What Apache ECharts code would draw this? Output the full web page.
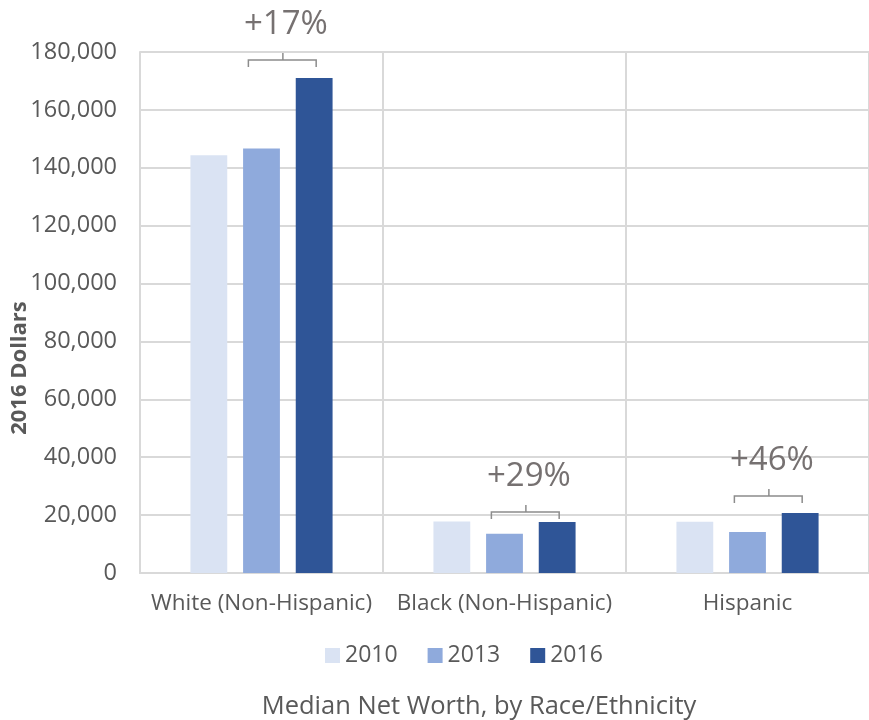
<!DOCTYPE html>
<html>
<head>
<meta charset="utf-8">
<script src="https://cdn.jsdelivr.net/npm/echarts@6/dist/echarts.min.js"></script>
<style>
  html, body { margin: 0; padding: 0; background: #fff; }
  #chart { width: 869px; height: 720px; }
</style>
</head>
<body>
<div id="chart"></div>
<script>
// Median net worth by race/ethnicity, 2016 dollars
const groups = ['White (Non-Hispanic)', 'Black (Non-Hispanic)', 'Hispanic'];
const years = ['2010', '2013', '2016'];
const worth2010 = [144300, 17800, 17700];
const worth2013 = [146700, 13600, 14200];
const worth2016 = [171000, 17600, 20700];
const yTicks = [0, 20000, 40000, 60000, 80000, 100000, 120000, 140000, 160000, 180000];

const colors = ['#dae3f3', '#8faadc', '#2f5597'];
const FONT = '"Open Sans", sans-serif';
const TEXT = '#595959';
const GRID = '#d9d9d9';

// Change from 2013 to 2016, shown over each group's bracket
const changeLabels = worth2016.map((v, i) =>
  '+' + Math.round((v / worth2013[i] - 1) * 100) + '%');
const bracketData = groups.map((g, i) => [i, Math.max(worth2013[i], worth2016[i]), changeLabels[i]]);
// pixel clearance between the taller bar and the bracket legs
const bracketLift = [11, 3, 10];

const chart = echarts.init(document.getElementById('chart'), null, { renderer: 'canvas' });

chart.setOption({
  animation: false,
  textStyle: { fontFamily: FONT },
  color: colors,
  grid: { left: 140, top: 52, width: 735, height: 521, containLabel: false },
  graphic: [{
    type: 'text',
    x: 20,
    y: 368,
    rotation: Math.PI / 2,
    style: {
      text: '2016 Dollars',
      textAlign: 'center',
      textVerticalAlign: 'middle',
      fill: TEXT,
      fontSize: 22,
      fontWeight: 'bold',
      fontFamily: FONT
    }
  }],
  legend: {
    data: years,
    bottom: 48,
    left: 320,
    itemWidth: 15,
    itemHeight: 15,
    itemGap: 30,
    icon: 'rect',
    textStyle: { color: TEXT, fontSize: 23, fontFamily: FONT }
  },
  title: {
    text: 'Median Net Worth, by Race/Ethnicity',
    left: 474,
    textAlign: 'center',
    bottom: -5,
    textStyle: { color: TEXT, fontSize: 25.5, fontWeight: 'normal', fontFamily: FONT }
  },
  xAxis: {
    type: 'category',
    data: groups,
    axisLine: { lineStyle: { color: GRID, width: 2 } },
    axisTick: { show: false },
    axisLabel: { color: TEXT, fontSize: 22.5, margin: 19, interval: 0, fontFamily: FONT },
    splitLine: { show: true, lineStyle: { color: GRID, width: 2 } }
  },
  yAxis: {
    type: 'value',
    min: yTicks[0],
    max: yTicks[yTicks.length - 1],
    interval: yTicks[1] - yTicks[0],
    axisLine: { show: true, lineStyle: { color: GRID, width: 2 } },
    axisTick: { show: false },
    axisLabel: {
      color: TEXT, fontSize: 23.5, margin: 23, fontFamily: FONT,
      formatter: v => v.toLocaleString('en-US')
    },
    splitLine: { lineStyle: { color: GRID, width: 2 } }
  },
  series: [
    { name: years[0], type: 'bar', data: worth2010, barGap: '43%', barCategoryGap: '41.5%' },
    { name: years[1], type: 'bar', data: worth2013, barGap: '43%', barCategoryGap: '41.5%' },
    { name: years[2], type: 'bar', data: worth2016, barGap: '43%', barCategoryGap: '41.5%' },
    {
      name: 'change',
      type: 'custom',
      data: bracketData,
      encode: { x: 0, y: 1 },
      clip: false,
      z: 10,
      silent: true,
      renderItem: (params, api) => {
        const i = params.dataIndex;
        const pt = api.coord([api.value(0), api.value(1)]);
        const band = api.size([1, 0])[0];
        const cx = pt[0];
        const left = cx - band * 0.054;
        const right = cx + band * 0.225;
        const mid = cx + band * 0.088;
        const legBottom = pt[1] - bracketLift[i];
        const barY = legBottom - 7;
        const tickTop = barY - 7;
        const stroke = { stroke: '#8c8c8c', lineWidth: 1.5, fill: null };
        return {
          type: 'group',
          children: [
            { type: 'polyline', shape: { points: [[left, legBottom], [left, barY], [right, barY], [right, legBottom]] }, style: stroke },
            { type: 'line', shape: { x1: mid, y1: barY, x2: mid, y2: tickTop }, style: stroke },
            {
              type: 'text',
              style: {
                text: changeLabels[i],
                x: mid + 3,
                y: tickTop - 12,
                textAlign: 'center',
                textVerticalAlign: 'bottom',
                fill: '#767171',
                fontSize: 33,
                fontFamily: FONT
              }
            }
          ]
        };
      }
    }
  ]
});
</script>
</body>
</html>
